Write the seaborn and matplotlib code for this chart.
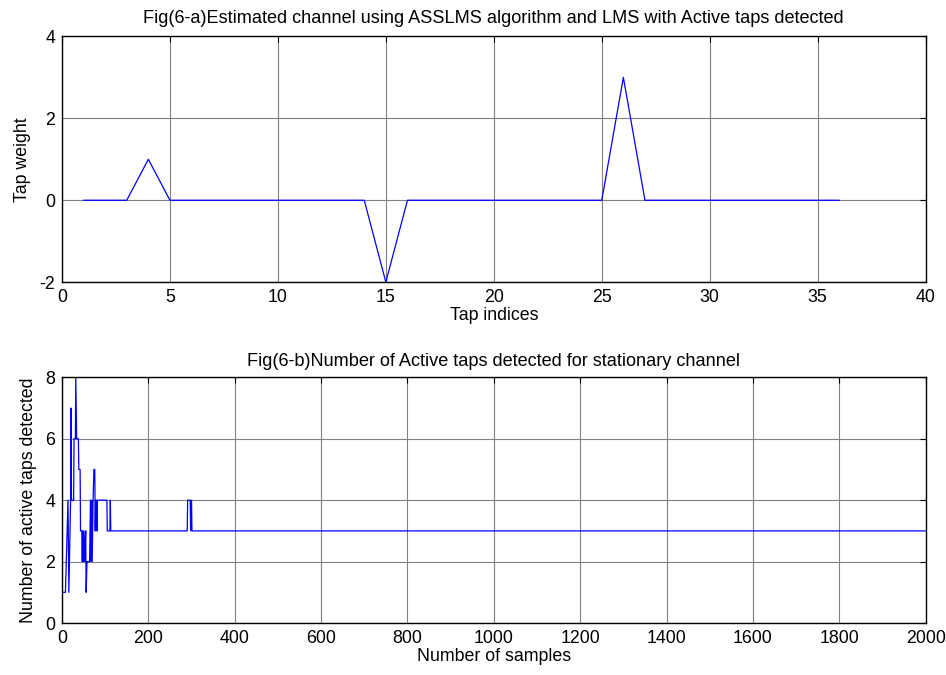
import numpy as np
import pandas as pd
import matplotlib
matplotlib.use("Agg")
import matplotlib.pyplot as plt
import seaborn as sns

# Fig(6-a): estimated channel tap weights
tap_index = list(range(1, 37))
tap_weight = [0, 0, 0, 1, 0, 0, 0, 0, 0, 0, 0, 0, 0, 0, -2, 0, 0, 0,
              0, 0, 0, 0, 0, 0, 0, 3, 0, 0, 0, 0, 0, 0, 0, 0, 0, 0]

# Fig(6-b): number of active taps detected (points where the trace changes)
sample_no = [0, 1, 8, 14, 16, 20, 21, 22, 27, 28, 31, 32, 34, 38, 39, 42, 43,
             46, 47, 48, 50, 51, 53, 55, 56, 58, 64, 66, 67, 69, 70, 72, 74,
             76, 77, 78, 79, 80, 81, 82, 104, 105, 111, 112, 113, 290, 291,
             297, 298, 300, 301, 2000]
active_taps = [0, 1, 1, 4, 1, 4, 7, 4, 4, 6, 6, 8, 6, 6, 5, 5, 3,
               3, 2, 3, 2, 3, 2, 3, 1, 2, 2, 4, 2, 4, 2, 4, 5,
               5, 3, 4, 3, 4, 3, 4, 4, 3, 3, 4, 3, 3, 4,
               4, 3, 4, 3, 3]

sns.set_style("whitegrid")
plt.rcParams['font.family'] = ['Liberation Sans', 'DejaVu Sans']
plt.rcParams['axes.unicode_minus'] = False
plt.rcParams['text.color'] = 'black'
plt.rcParams['axes.labelcolor'] = 'black'
plt.rcParams['xtick.color'] = 'black'
plt.rcParams['ytick.color'] = 'black'

fs = 12.8
title_fs = 13.1

fig = plt.figure(figsize=(9.46, 6.75), dpi=100)
ax1 = fig.add_axes([0.0655, 0.582, 0.913, 0.364])
ax2 = fig.add_axes([0.0655, 0.077, 0.913, 0.364])

df_a = pd.DataFrame({'tap': tap_index, 'weight': tap_weight})
df_b = pd.DataFrame({'n': sample_no, 'taps': active_taps})

sns.lineplot(data=df_a, x='tap', y='weight', ax=ax1, color='#0000ff',
             linewidth=0.9, estimator=None, sort=False)
sns.lineplot(data=df_b, x='n', y='taps', ax=ax2, color='#0000ff',
             linewidth=0.9, estimator=None, sort=False)

def matlab_axes(ax):
    ax.set_facecolor('white')
    ax.grid(True, color='#808080', linewidth=0.8, linestyle='-')
    for s in ax.spines.values():
        s.set_color('black')
        s.set_linewidth(1.0)
    ax.tick_params(direction='in', top=True, right=True, length=4,
                   color='black', labelcolor='black', labelsize=fs, pad=5)

ax1.set_xlim(0, 40)
ax1.set_ylim(-2, 4)
ax1.set_xticks(range(0, 41, 5))
ax1.set_yticks([-2, 0, 2, 4])
ax1.set_title('Fig(6-a)Estimated channel using ASSLMS algorithm and LMS with Active taps detected',
              fontsize=title_fs, pad=10, color='black')
ax1.set_xlabel('Tap indices', fontsize=fs, labelpad=1, color='black')
ax1.set_ylabel('Tap weight', fontsize=fs, labelpad=6, color='black')
matlab_axes(ax1)

ax2.set_xlim(0, 2000)
ax2.set_ylim(0, 8)
ax2.set_xticks(range(0, 2001, 200))
ax2.set_yticks([0, 2, 4, 6, 8])
ax2.set_title('Fig(6-b)Number of Active taps detected for stationary channel',
              fontsize=title_fs, pad=8, color='black')
ax2.set_xlabel('Number of samples', fontsize=fs, labelpad=1, color='black')
ax2.set_ylabel('Number of active taps detected', fontsize=fs, labelpad=6, color='black')
matlab_axes(ax2)

fig.savefig('out.png', dpi=100)
